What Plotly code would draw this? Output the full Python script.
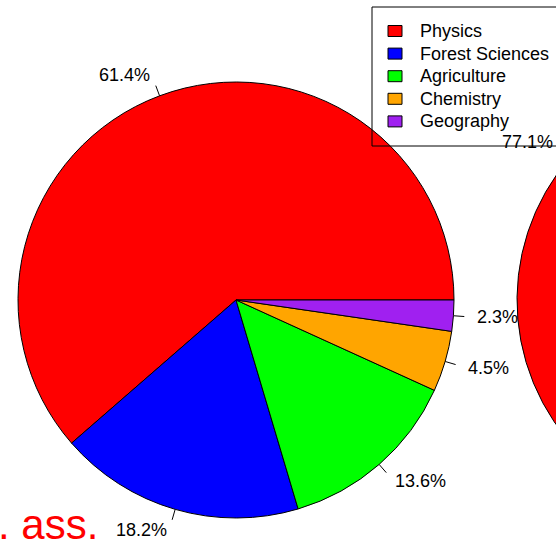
import math
import plotly.graph_objects as go

# ---- data ----
fields = ["Physics", "Forest Sciences", "Agriculture", "Chemistry", "Geography"]
shares = [61.4, 18.2, 13.6, 4.5, 2.3]
colors = ["#FF0000", "#0000FF", "#00FF00", "#FFA500", "#A020F0"]
pie2_labels = ["Physics", "Other"]
pie2_shares = [77.1, 22.9]
pie2_colors = ["#FF0000", "#FFFFFF"]

# ---- geometry (pixels) ----
W, H = 960, 546
CX1, CX2, CY, R = 236, 735, 300, 218
FONT = "Liberation Sans, Arial, sans-serif"


def dom(cx):
    return dict(x=[(cx - R) / W, (cx + R) / W], y=[1 - (CY + R) / H, 1 - (CY - R) / H])


def rot(vals):
    # plotly's counterclockwise pies end the first slice at `rotation`;
    # shift so the first slice starts at 3 o'clock like base R pie()
    return 90 - 360 * vals[0] / sum(vals)


fig = go.Figure()
fig.add_trace(go.Pie(labels=fields, values=shares, marker=dict(colors=colors, line=dict(color="black", width=1)),
                     sort=False, direction="counterclockwise", rotation=rot(shares), textinfo="none",
                     hoverinfo="label+percent", showlegend=False, domain=dom(CX1)))
fig.add_trace(go.Pie(labels=pie2_labels, values=pie2_shares,
                     marker=dict(colors=pie2_colors, line=dict(color="black", width=1)),
                     sort=False, direction="counterclockwise", rotation=rot(pie2_shares), textinfo="none",
                     showlegend=False, domain=dom(CX2)))

annotations = []
shapes = []
tick_x, tick_y = [], []


def label_pie(cx, labels, vals, only=None):
    tot = sum(vals)
    cum = 0.0
    for lab, v in zip(labels, vals):
        th = 2 * math.pi * (cum + v / 2) / tot
        cum += v
        if only is not None and lab not in only:
            continue
        c, s = math.cos(th), math.sin(th)
        tick_x.extend([cx + R * c, cx + 1.05 * R * c, None])
        tick_y.extend([CY - R * s, CY - 1.05 * R * s, None])
        annotations.append(dict(x=cx + 1.1 * R * c, y=CY - 1.1 * R * s, xref="x", yref="y",
                                text=f"{100 * v / tot:.1f}%", showarrow=False,
                                xanchor="left" if c >= 0 else "right", yanchor="middle",
                                font=dict(size=18, color="black", family=FONT)))


label_pie(CX1, fields, shares)
label_pie(CX2, pie2_labels, pie2_shares, only=["Physics"])

fig.add_trace(go.Scatter(x=tick_x, y=tick_y, mode="lines", line=dict(color="black", width=1),
                         showlegend=False, hoverinfo="skip"))

# ---- legend (base-R style box, transparent background) ----
LX0, LY0, LY1, LX1 = 372, 7, 146, 563
row_h = 22.6
first_y = 31
for i, (name, col) in enumerate(zip(fields, colors)):
    yc = first_y + i * row_h
    shapes.append(dict(type="rect", xref="x", yref="y", x0=388, x1=402, y0=yc - 5.5, y1=yc + 5.5,
                       fillcolor=col, line=dict(color="black", width=1)))
    annotations.append(dict(x=418, y=yc, xref="x", yref="y", text=name, showarrow=False,
                            xanchor="left", yanchor="middle", font=dict(size=18, color="black", family=FONT)))
shapes.append(dict(type="rect", xref="x", yref="y", x0=LX0, x1=LX1, y0=LY0, y1=LY1,
                   fillcolor="rgba(0,0,0,0)", line=dict(color="black", width=1)))

annotations.append(dict(x=100, y=524, xref="x", yref="y", text=". ass.", showarrow=False,
                        xanchor="right", yanchor="middle", font=dict(size=42, color="#FF0000", family=FONT)))
annotations.append(dict(x=3, y=356, xref="x", yref="y", text=":", showarrow=False,
                        xanchor="right", yanchor="middle", font=dict(size=20, color="#FF0000", family=FONT)))

fig.update_layout(
    width=W, height=H, margin=dict(l=0, r=0, t=0, b=0),
    paper_bgcolor="white", plot_bgcolor="rgba(0,0,0,0)",
    xaxis=dict(range=[0, W], visible=False, fixedrange=True),
    yaxis=dict(range=[H, 0], visible=False, fixedrange=True),
    showlegend=False,
    annotations=annotations,
    shapes=shapes,
)

fig.write_html("out.html", post_script="document.body.style.margin='0';document.body.style.overflow='hidden';")
